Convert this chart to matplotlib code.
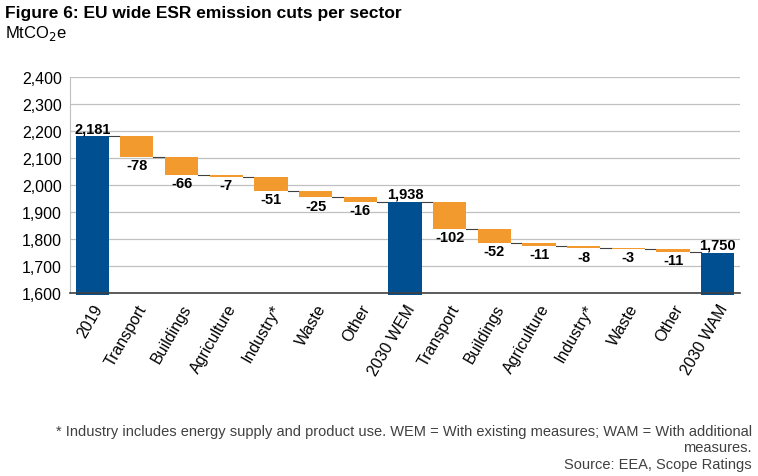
import matplotlib.pyplot as plt
import numpy as np

plt.rcParams['font.family'] = ['Liberation Sans', 'DejaVu Sans']

# categorias y valores (MtCO2e)
categories = ['2019', 'Transport', 'Buildings', 'Agriculture', 'Industry*', 'Waste', 'Other',
              '2030 WEM', 'Transport', 'Buildings', 'Agriculture', 'Industry*', 'Waste', 'Other',
              '2030 WAM']
values = [2181, -78, -66, -7, -51, -25, -16, 1938, -102, -52, -11, -8, -3, -11, 1750]
is_total = [True, False, False, False, False, False, False, True,
            False, False, False, False, False, False, True]

blue = '#004F91'
orange = '#F39A2E'
base = 1600

fig = plt.figure(figsize=(7.58, 4.77), dpi=100)
ax = fig.add_axes([0.0923, 0.3836, 0.884, 0.4528])

x = np.arange(len(categories))
w = 0.74
level = 0
ends = []
for i, v in enumerate(values):
    if is_total[i]:
        ax.bar(x[i], v - base + 8, bottom=base - 8, width=w, color=blue, zorder=3, clip_on=False)
        ax.text(x[i], v + 4, f'{v:,}', ha='center', va='bottom', fontsize=10.5, fontweight='bold')
        level = v
    else:
        ax.bar(x[i], v, bottom=level, width=w, color=orange, zorder=3)
        level = level + v
        ax.text(x[i], level - 4, f'{v}', ha='center', va='top', fontsize=10.5, fontweight='bold')
    ends.append(level)

# lineas de conexion entre barras
for i in range(len(values) - 1):
    ax.plot([x[i] + w / 2, x[i + 1] - w / 2], [ends[i], ends[i]], color='#404040', lw=0.8, zorder=2)

ax.set_xlim(-0.5, len(categories) - 0.5)
ax.set_ylim(base, 2400)
ax.set_yticks(range(1600, 2401, 100))
ax.set_yticklabels([f'{t:,}' for t in range(1600, 2401, 100)], fontsize=11.5)
ax.set_xticks(x)
ax.set_xticklabels(categories, rotation=60, ha='right', rotation_mode='anchor', fontsize=11.5)
ax.tick_params(axis='both', length=0, pad=6)
ax.grid(axis='y', color='#C0C0C0', lw=0.9, zorder=0)
for s in ['top', 'right']:
    ax.spines[s].set_visible(False)
ax.spines['left'].set_color('#C0C0C0')
ax.spines['bottom'].set_color('#404040')
ax.spines['bottom'].set_linewidth(1.2)
ax.spines['bottom'].set_zorder(4)

fig.text(0.007, 0.972, 'Figure 6: EU wide ESR emission cuts per sector', fontsize=12.5,
         fontweight='bold', va='center')
fig.text(0.007, 0.93, 'MtCO$_2$e', fontsize=12, va='center')

foot = ['Liberation Sans Narrow', 'Liberation Sans', 'DejaVu Sans']
fig.text(0.992, 0.095, '* Industry includes energy supply and product use. WEM = With existing measures; WAM = With additional',
         ha='right', va='center', fontsize=10.5, color='#404040', family=foot)
fig.text(0.992, 0.061, 'measures.', ha='right', va='center', fontsize=10.5, color='#404040', family=foot)
fig.text(0.992, 0.025, 'Source: EEA, Scope Ratings', ha='right', va='center', fontsize=10.5,
         color='#404040', family=foot)

plt.savefig('out.png')
